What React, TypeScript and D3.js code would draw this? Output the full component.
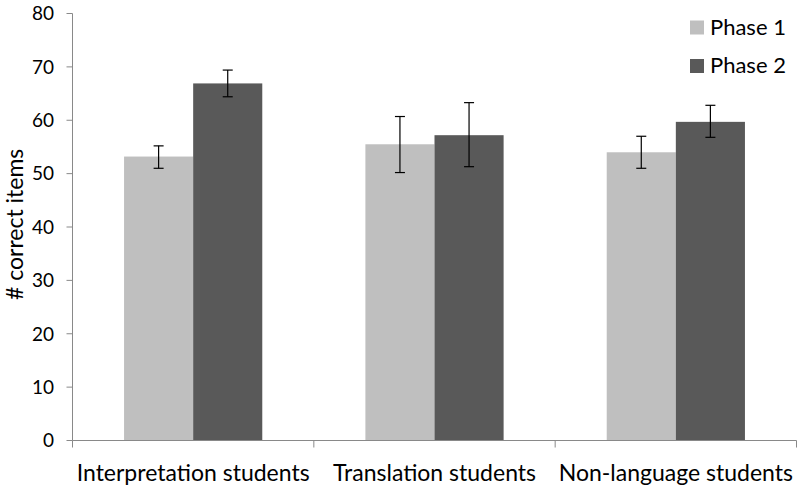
import React from "react";
import * as d3 from "d3";

const categories = ["Interpretation students", "Translation students", "Non-language students"];
const seriesNames = ["Phase 1", "Phase 2"];
const phase1 = [53.2, 55.5, 54.0];
const phase2 = [66.9, 57.2, 59.7];
const phase1Low = [51.0, 50.2, 51.0];
const phase1High = [55.2, 60.7, 57.0];
const phase2Low = [64.4, 51.3, 56.8];
const phase2High = [69.4, 63.3, 62.8];
const yTicks = [0, 10, 20, 30, 40, 50, 60, 70, 80];
const colors = ["#bfbfbf", "#595959"];

const W = 799, H = 485;
const FONT = "Lato, 'Open Sans', sans-serif";

export default function App() {
  const x = d3.scaleBand<string>().domain(categories).range([72.5, 796.5]).paddingInner(0).paddingOuter(0);
  const inner = d3.scaleBand<string>().domain(seriesNames).range([0, x.bandwidth()]).paddingOuter(0.746).paddingInner(0);
  const y = d3.scaleLinear().domain([0, 80]).range([440.5, 13.5]);
  const vals = [phase1, phase2];
  const lows = [phase1Low, phase2Low];
  const highs = [phase1High, phase2High];
  const axisColor = "#898989";
  return (
    <svg width={W} height={H} style={{ position: "absolute", left: 0, top: 0, background: "#fff" }}>
      {/* y axis */}
      <line x1={72.5} x2={72.5} y1={y(80)} y2={y(0)} stroke={axisColor} strokeWidth={1} />
      {yTicks.map((t) => (
        <g key={t}>
          <line x1={66.5} x2={72.5} y1={y(t)} y2={y(t)} stroke={axisColor} />
          <text x={54} y={y(t)} dy="0.36em" textAnchor="end" fontFamily={FONT} fontSize={19} fill="#000">{t}</text>
        </g>
      ))}
      <text transform={`translate(23,${y(40.5)}) rotate(-90)`} textAnchor="middle" fontFamily={FONT} fontSize={23} fill="#000">
        # correct items
      </text>
      {/* bars */}
      {categories.map((c, i) => (
        <g key={c}>
          {seriesNames.map((s, j) => {
            const bx = (x(c) as number) + (inner(s) as number);
            const bw = inner.bandwidth();
            const cx = bx + bw / 2;
            return (
              <g key={s}>
                <rect x={bx} y={y(vals[j][i])} width={bw} height={y(0) - y(vals[j][i])} fill={colors[j]} />
                <line x1={cx} x2={cx} y1={y(highs[j][i])} y2={y(lows[j][i])} stroke="#000" strokeWidth={1.2} />
                <line x1={cx - 5} x2={cx + 5} y1={y(highs[j][i])} y2={y(highs[j][i])} stroke="#000" strokeWidth={1.2} />
                <line x1={cx - 5} x2={cx + 5} y1={y(lows[j][i])} y2={y(lows[j][i])} stroke="#000" strokeWidth={1.2} />
              </g>
            );
          })}
        </g>
      ))}
      {/* x axis */}
      <line x1={72.5} x2={796.5} y1={y(0)} y2={y(0)} stroke={axisColor} />
      {[...categories.map((c) => x(c) as number), 796.5].map((tx, k) => (
        <line key={k} x1={tx} x2={tx} y1={y(0)} y2={y(0) + 7} stroke={axisColor} />
      ))}
      {categories.map((c) => (
        <text key={c} x={(x(c) as number) + x.bandwidth() / 2} y={481} textAnchor="middle" fontFamily={FONT} fontSize={23} fill="#000">
          {c}
        </text>
      ))}
      {/* legend */}
      {seriesNames.map((s, j) => (
        <g key={s} transform={`translate(690,${20.5 + j * 38.5})`}>
          <rect x={0} y={0} width={14} height={14} fill={colors[j]} />
          <text x={20} y={14} fontFamily={FONT} fontSize={22} fill="#000">{s}</text>
        </g>
      ))}
    </svg>
  );
}
